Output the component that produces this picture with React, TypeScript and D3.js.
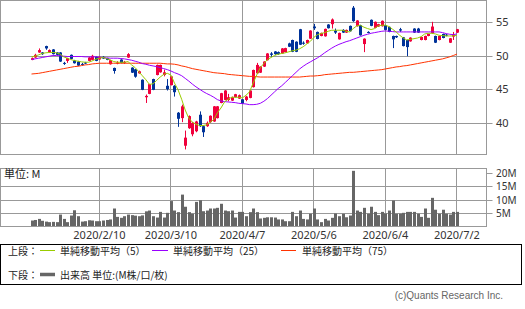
import React from "react";
import * as d3 from "d3";

const openP = [49.45,49.8,50.55,50.55,51.5,50.55,51.0,50.55,50.55,49.0,
 49.3,50.2,49.35,49.2,48.85,49.05,49.3,49.45,49.9,49.5,
 49.9,49.7,48.8,48.25,48.95,49.5,49.05,49.8,48.3,48.05,
 47.45,46.5,43.9,44.4,46.6,47.2,47.6,47.2,45.6,45.7,
 45.6,41.6,40.8,36.7,39.3,38.4,38.85,41.3,39.6,39.6,
 40.2,40.3,40.8,43.05,43.5,43.5,43.4,43.9,43.7,43.6,
 43.5,43.8,45.4,47.45,47.55,48.45,49.4,50.4,50.7,50.6,
 50.4,50.6,51.9,52.4,52.15,54.0,52.0,51.9,52.6,54.4,
 53.6,53.0,52.95,54.7,54.75,53.8,52.5,53.9,53.5,54.5,
 57.2,54.45,54.6,51.8,53.6,55.4,54.2,54.4,54.45,54.6,
 54.35,53.0,53.0,54.0,52.8,52.4,52.2,54.1,54.1,52.4,
 52.4,53.0,53.4,53.0,52.4,53.3,53.2,52.0,52.9,53.5];
const closeP = [49.7,50.2,50.9,50.3,51.15,50.9,50.3,50.2,49.2,48.9,
 49.7,49.6,48.95,48.6,48.75,48.95,49.8,50.05,49.3,49.9,
 49.65,49.45,49.4,47.8,49.05,49.0,49.15,50.3,47.55,46.95,
 47.75,45.0,44.1,45.85,45.0,48.7,48.7,47.6,45.1,47.0,
 44.65,40.7,42.55,37.9,41.1,40.1,40.3,39.6,38.7,40.1,
 41.15,42.55,42.55,44.5,44.9,43.9,43.9,44.35,44.2,42.95,
 44.0,44.9,47.95,48.7,48.45,49.2,50.4,50.2,50.3,50.3,
 51.15,51.2,51.4,50.65,50.65,51.7,51.85,52.4,53.8,54.15,
 52.55,53.45,54.05,54.15,55.45,53.5,53.45,53.5,53.9,53.7,
 55.2,55.3,53.1,52.6,53.45,54.5,55.1,54.75,55.25,53.9,
 53.6,52.5,52.8,53.8,51.5,51.35,52.75,53.5,53.5,52.85,
 53.0,53.3,54.4,52.0,53.0,52.7,53.05,52.65,53.2,54.0];
const highP = [49.8,50.35,51.15,50.6,51.55,51.0,51.05,50.6,50.6,49.15,
 49.75,50.25,49.45,49.3,49.0,49.15,49.85,50.2,49.95,50.0,
 50.0,49.75,49.45,48.3,49.25,49.55,49.3,50.45,48.35,48.1,
 47.85,46.55,44.3,45.9,46.65,48.75,48.75,48.0,46.6,47.05,
 45.7,41.7,42.8,38.95,41.2,40.2,40.4,41.8,39.7,40.3,
 41.2,42.6,42.6,44.55,44.95,44.4,44.0,44.4,44.3,43.65,
 44.1,44.95,48.0,49.0,48.5,49.25,50.45,50.6,50.75,50.7,
 51.2,51.25,52.0,52.45,52.2,54.05,52.2,52.45,53.85,54.8,
 53.65,53.5,54.1,54.75,55.6,54.1,53.5,54.0,53.95,54.55,
 57.45,55.35,54.65,52.65,53.7,55.45,55.15,54.8,55.3,54.65,
 54.4,53.05,53.05,54.2,52.85,52.45,52.8,54.15,54.2,52.9,
 53.05,53.35,55.1,53.05,53.05,53.35,53.3,52.7,53.6,54.05];
const lowP = [49.4,49.75,50.5,50.2,50.95,50.5,50.25,50.15,49.15,48.7,
 49.0,49.55,48.9,48.55,48.6,48.85,49.25,49.4,49.25,49.45,
 49.6,49.4,48.75,47.4,48.8,48.95,48.85,49.75,47.5,46.8,
 47.4,44.95,43.05,44.35,44.95,47.15,47.55,47.0,44.9,45.65,
 44.0,39.5,40.2,36.15,39.2,38.1,38.7,39.5,38.0,39.5,
 40.1,40.25,40.75,43.0,43.45,43.3,43.35,43.85,43.65,42.9,
 43.3,43.75,45.35,47.4,47.5,48.4,49.35,49.9,50.2,50.2,
 50.35,50.55,51.35,50.6,50.6,51.65,51.7,51.85,52.55,53.9,
 52.5,52.95,52.9,54.1,54.1,53.3,52.45,53.45,53.45,53.65,
 55.1,54.4,53.05,50.6,53.4,54.45,54.15,54.35,54.4,53.85,
 53.55,51.2,52.7,53.6,51.45,50.0,52.15,53.45,53.45,52.35,
 52.35,52.95,53.35,51.95,52.35,52.65,52.95,51.95,52.4,53.45];
const volumeM = [2.4,2.6,3.0,2.3,2.0,1.8,1.9,1.8,4.6,3.0,
 1.8,4.25,6.2,4.0,2.0,2.15,2.5,2.4,2.15,2.15,
 2.4,2.6,2.8,6.85,3.75,3.4,4.0,4.6,4.4,4.2,
 4.0,4.3,5.8,6.1,4.0,3.5,5.6,3.5,5.25,9.6,
 6.1,5.5,12.0,7.5,5.5,4.9,9.3,9.9,5.85,6.1,
 6.85,6.85,7.1,8.6,6.1,5.85,6.1,3.5,5.6,5.6,
 4.0,5.5,6.85,5.5,3.15,3.4,3.6,3.6,3.5,2.8,
 2.8,2.15,2.15,5.6,4.0,6.1,3.0,2.8,4.9,6.85,
 2.8,1.8,3.0,2.4,3.4,5.0,4.0,4.9,3.6,4.25,
 20.8,6.1,5.6,7.1,4.9,7.5,5.6,4.4,5.6,5.0,
 6.1,9.8,4.9,4.9,5.25,5.6,5.6,5.6,4.9,3.75,
 6.85,3.4,10.8,6.4,4.9,6.4,4.9,4.6,5.6,5.6];
const ma5 = [49.9,50.0,50.2,50.4,50.5,50.55,50.55,50.5,50.3,49.9,
 49.7,49.5,49.35,49.25,49.15,49.1,49.1,49.3,49.55,49.7,
 49.8,49.65,49.45,49.2,49.1,49.1,49.1,49.2,48.7,48.3,
 47.7,47.1,46.5,45.8,45.9,46.4,46.9,47.3,47.45,47.2,
 46.0,45.0,43.6,42.0,40.8,40.2,39.9,39.7,39.7,39.8,
 40.2,40.6,41.6,42.3,43.2,43.6,43.9,43.9,43.9,43.8,
 44.2,44.7,46.0,47.2,48.3,48.9,49.5,49.8,50.1,50.3,
 50.4,50.5,50.65,50.8,50.9,51.1,51.4,51.8,52.2,52.8,
 53.2,53.35,53.5,53.7,53.85,53.85,53.85,53.85,53.7,53.6,
 54.1,54.5,54.6,54.3,54.1,53.95,54.1,54.5,54.6,54.6,
 54.4,54.0,53.6,53.1,52.7,52.4,52.5,52.6,52.7,52.9,
 53.3,53.4,53.4,53.3,53.1,53.05,53.0,53.0,53.0,53.1];
const ma25 = [49.5,49.6,49.7,49.8,49.9,50.0,50.1,50.1,50.05,50.0,
 49.95,49.95,49.95,49.95,49.95,49.9,49.9,49.9,49.9,49.85,
 49.8,49.75,49.7,49.7,49.7,49.65,49.6,49.5,49.4,49.25,
 49.1,48.9,48.8,48.65,48.55,48.45,48.3,48.15,48.0,47.8,
 47.55,47.35,47.1,46.7,46.3,45.85,45.45,45.1,44.75,44.45,
 44.2,43.9,43.55,43.35,43.25,43.2,43.15,43.1,43.0,42.95,
 42.9,42.8,42.8,42.85,43.0,43.3,43.7,44.2,44.7,45.2,
 45.6,46.1,46.6,47.1,47.6,48.1,48.5,48.85,49.15,49.45,
 49.75,50.1,50.5,50.85,51.2,51.5,51.75,51.95,52.15,52.3,
 52.5,52.7,52.9,53.1,53.25,53.4,53.5,53.6,53.7,53.75,
 53.7,53.65,53.6,53.6,53.6,53.6,53.6,53.6,53.6,53.6,
 53.6,53.6,53.6,53.6,53.6,53.5,53.35,53.25,53.2,53.3];
const ma75 = [47.35,47.4,47.45,47.55,47.65,47.75,47.85,47.95,48.05,48.15,
 48.25,48.35,48.45,48.5,48.6,48.7,48.75,48.85,48.9,48.95,
 48.95,48.95,48.95,48.95,48.95,48.95,48.95,48.95,48.95,48.95,
 48.95,48.95,48.95,48.95,48.95,48.95,48.95,48.9,48.85,48.85,
 48.8,48.7,48.55,48.45,48.3,48.15,48.05,47.95,47.85,47.75,
 47.65,47.55,47.5,47.45,47.4,47.3,47.25,47.2,47.15,47.1,
 47.05,47.0,47.0,46.95,46.9,46.9,46.9,46.9,46.9,46.9,
 46.9,46.9,46.9,46.9,46.9,46.9,46.95,47.0,47.05,47.05,
 47.1,47.15,47.25,47.3,47.35,47.4,47.45,47.5,47.55,47.6,
 47.6,47.65,47.7,47.75,47.8,47.85,47.9,47.95,48.0,48.1,
 48.2,48.3,48.4,48.45,48.55,48.6,48.7,48.8,48.9,49.0,
 49.1,49.2,49.3,49.4,49.5,49.6,49.75,49.9,50.1,50.3];

const dateTickIndex = [19, 39, 59, 79, 99, 119];
const dateTickLabels = ["2020/2/10", "2020/3/10", "2020/4/7", "2020/5/6", "2020/6/4", "2020/7/2"];
const priceTicks = [40, 45, 50, 55];
const volumeTicks = [5, 10, 15, 20];
const volumeTickLabels = ["5M", "10M", "15M", "20M"];

const UP = "#f0003c";
const DOWN = "#003399";
const C5 = "#99cc00";
const C25 = "#9900ff";
const C75 = "#ff3300";
const GRID = "#999999";
const VOL = "#666666";

const PANEL_L = 0.5, PANEL_R = 486.5;
const TOP_T = 0.5, TOP_B = 154.5;
const VOL_T = 168.5, VOL_B = 226.5;

export default function App() {
  const n = closeP.length;
  const x = d3.scaleLinear().domain([0, n - 1]).range([31.5, 456.9]);
  const yP = d3.scaleLinear().domain([40, 55]).range([123.5, 22.5]);
  const yV = d3.scaleLinear().domain([0, 20]).range([227, 173]);
  const snap = (v: number) => Math.floor(v) + 0.5;

  const idx = d3.range(n);
  const line = (arr: number[]) =>
    d3.line<number>().x((i) => x(i)).y((i) => yP(arr[i]))(idx) || "";

  const latin = "'Noto Sans', 'DejaVu Sans', sans-serif";
  const cjk = "'Noto Sans CJK JP', 'Noto Sans', sans-serif";

  return (
    <svg width={525} height={309} style={{ position: "absolute", left: 0, top: 0, background: "#fff" }}>
      <rect x={0} y={0} width={525} height={309} fill="#fff" />
      {priceTicks.map((t) => (
        <g key={"pg" + t}>
          <line x1={PANEL_L} x2={PANEL_R} y1={snap(yP(t))} y2={snap(yP(t))} stroke={GRID} strokeWidth={1} />
          <line x1={PANEL_R} x2={PANEL_R + 6} y1={snap(yP(t))} y2={snap(yP(t))} stroke={GRID} strokeWidth={1} />
          <text x={496} y={snap(yP(t))} dy="0.36em" fontSize={11} fontFamily={latin} fill="#333">{t}</text>
        </g>
      ))}
      {dateTickIndex.map((i) => (
        <g key={"vg" + i}>
          <line x1={snap(x(i))} x2={snap(x(i))} y1={TOP_T} y2={TOP_B} stroke={GRID} strokeWidth={1} />
          <line x1={snap(x(i))} x2={snap(x(i))} y1={VOL_T} y2={VOL_B} stroke={GRID} strokeWidth={1} />
        </g>
      ))}
      <rect x={PANEL_L} y={TOP_T} width={PANEL_R - PANEL_L} height={TOP_B - TOP_T} fill="none" stroke={GRID} strokeWidth={1} />

      {idx.map((i) => {
        const o = openP[i], c = closeP[i];
        const col = c >= o ? UP : DOWN;
        const cx = Math.round(x(i));
        const top = yP(Math.max(o, c));
        const bot = yP(Math.min(o, c));
        return (
          <g key={"c" + i}>
            <line x1={cx + 0.5} x2={cx + 0.5} y1={yP(highP[i])} y2={yP(lowP[i])} stroke={col} strokeWidth={1} />
            <rect x={cx - 1} y={top} width={3} height={Math.max(1, bot - top)} fill={col} />
          </g>
        );
      })}
      <path d={line(ma75)} fill="none" stroke={C75} strokeWidth={1} />
      <path d={line(ma25)} fill="none" stroke={C25} strokeWidth={1} />
      <path d={line(ma5)} fill="none" stroke={C5} strokeWidth={1} />

      {volumeTicks.map((t, k) => (
        <g key={"vt" + t}>
          {t < 20 && (
            <line x1={PANEL_L} x2={PANEL_R} y1={snap(yV(t))} y2={snap(yV(t))} stroke={GRID} strokeWidth={1} />
          )}
          <line x1={PANEL_R} x2={PANEL_R + 6} y1={snap(yV(t))} y2={snap(yV(t))} stroke={GRID} strokeWidth={1} />
          <text x={496} y={snap(yV(t))} dy="0.35em" fontSize={10} fontFamily={latin} fill="#333">{volumeTickLabels[k]}</text>
        </g>
      ))}
      {idx.map((i) => {
        const cx = Math.round(x(i));
        return <rect key={"v" + i} x={cx - 1} y={yV(volumeM[i])} width={3} height={yV(0) - yV(volumeM[i])} fill={VOL} />;
      })}
      <rect x={PANEL_L} y={VOL_T} width={PANEL_R - PANEL_L} height={VOL_B - VOL_T} fill="none" stroke={GRID} strokeWidth={1} />
      <text x={4} y={178} fontSize={11} fontFamily={cjk} fill="#222">単位: M</text>

      {dateTickIndex.map((i, k) => (
        <text key={"dl" + i} x={x(i)} y={239} textAnchor="middle" fontSize={11} fontFamily={latin} fill="#333">{dateTickLabels[k]}</text>
      ))}

      <rect x={0.5} y={244.5} width={521} height={40} fill="none" stroke="#000" strokeWidth={1} />
      <g fontFamily={cjk} fontSize={10} fill="#222">
        <text x={8} y={254.5}>上段：</text>
        <line x1={40} x2={55} y1={250.5} y2={250.5} stroke={C5} strokeWidth={1} />
        <text x={60} y={254.5}>単純移動平均（5）</text>
        <line x1={152} x2={168} y1={250.5} y2={250.5} stroke={C25} strokeWidth={1} />
        <text x={173} y={254.5}>単純移動平均（25）</text>
        <line x1={281} x2={296} y1={250.5} y2={250.5} stroke={C75} strokeWidth={1} />
        <text x={302} y={254.5}>単純移動平均（75）</text>
        <text x={8} y={279}>下段：</text>
        <line x1={40} x2={55} y1={274.5} y2={274.5} stroke={VOL} strokeWidth={3.5} />
        <text x={60} y={279}>出来高 単位:(M株/口/枚)</text>
      </g>
      <text x={503} y={299} textAnchor="end" fontSize={10} fontFamily="'Liberation Sans', sans-serif" fill="#666">(c)Quants Research Inc.</text>
    </svg>
  );
}
